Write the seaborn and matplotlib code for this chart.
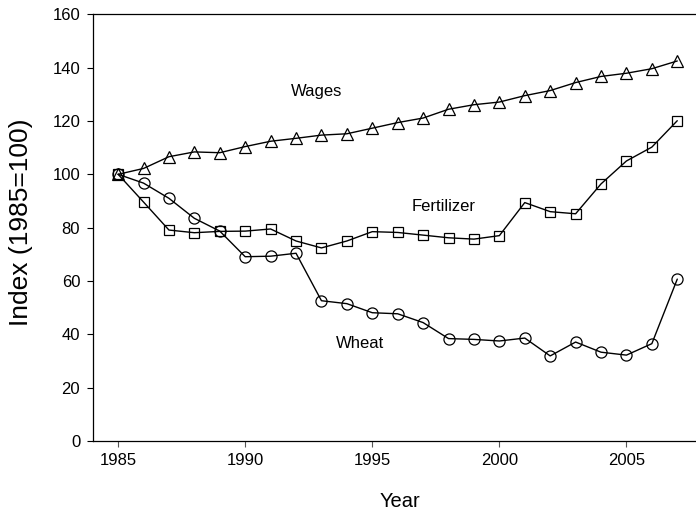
import matplotlib
matplotlib.use("Agg")
import matplotlib.pyplot as plt
import seaborn as sns
import pandas as pd

years = list(range(1985, 2008))

wages = [100.0, 102.2, 106.6, 108.4, 108.1, 110.4, 112.4, 113.5, 114.7, 115.2,
         117.3, 119.4, 121.1, 124.4, 126.1, 127.1, 129.5, 131.4, 134.4, 136.7,
         137.9, 139.6, 142.5]
fertilizer = [100.0, 89.6, 79.1, 78.1, 78.6, 78.7, 79.5, 75.0, 72.4, 75.0,
              78.5, 78.2, 77.2, 76.2, 75.7, 77.0, 89.4, 86.0, 85.2, 96.4,
              105.0, 110.2, 120.1]
wheat = [100.0, 96.7, 91.0, 83.5, 78.7, 69.1, 69.3, 70.4, 52.6, 51.5,
         48.1, 47.7, 44.4, 38.4, 38.1, 37.5, 38.6, 31.9, 37.1, 33.3,
         32.2, 36.5, 60.7]

series_labels = ["Wages", "Fertilizer", "Wheat"]
label_pos = [(1992.8, 131.0), (1997.8, 87.9), (1994.5, 36.6)]

x_ticks = [1985, 1990, 1995, 2000, 2005]
y_ticks = [0, 20, 40, 60, 80, 100, 120, 140, 160]

sns.set_style("ticks")
plt.rcParams["font.family"] = ["Liberation Sans", "DejaVu Sans"]
plt.rcParams["text.color"] = "black"
plt.rcParams["axes.labelcolor"] = "black"
plt.rcParams["xtick.labelcolor"] = "black"
plt.rcParams["ytick.labelcolor"] = "black"

fig = plt.figure(figsize=(6.96, 5.11), dpi=100)
ax = fig.add_axes([0.1332, 0.137, 0.8764, 0.835])

df = pd.DataFrame({"Year": years, "Wages": wages,
                   "Fertilizer": fertilizer, "Wheat": wheat})

styles = {"Wages": ("^", 8.5), "Fertilizer": ("s", 7), "Wheat": ("o", 8)}
for name in series_labels:
    marker, ms = styles[name]
    sns.lineplot(data=df, x="Year", y=name, ax=ax, color="black", lw=1,
                 marker=marker, markersize=ms, markerfacecolor="none",
                 markeredgecolor="black", markeredgewidth=0.9)

for name, (tx, ty) in zip(series_labels, label_pos):
    ax.text(tx, ty, name, fontsize=12, ha="center", va="center")

ax.set_xlim(1984, 2008)
ax.set_ylim(0, 160)
ax.set_xticks(x_ticks)
ax.set_yticks(y_ticks)
ax.tick_params(axis="both", labelsize=12, length=4, width=0.8, pad=5,
               direction="out", color="black")
ax.tick_params(axis="x", color="#555555")

for side in ["left", "bottom", "top"]:
    ax.spines[side].set_linewidth(0.9)
    ax.spines[side].set_color("black")
ax.spines["right"].set_visible(False)

ax.set_xlabel("Year", fontsize=14.5)
ax.set_ylabel("Index (1985=100)", fontsize=19)
ax.xaxis.set_label_coords(0.504, -0.1195)
ax.yaxis.set_label_coords(-0.098, 0.513)

fig.savefig("out.png", dpi=100)
